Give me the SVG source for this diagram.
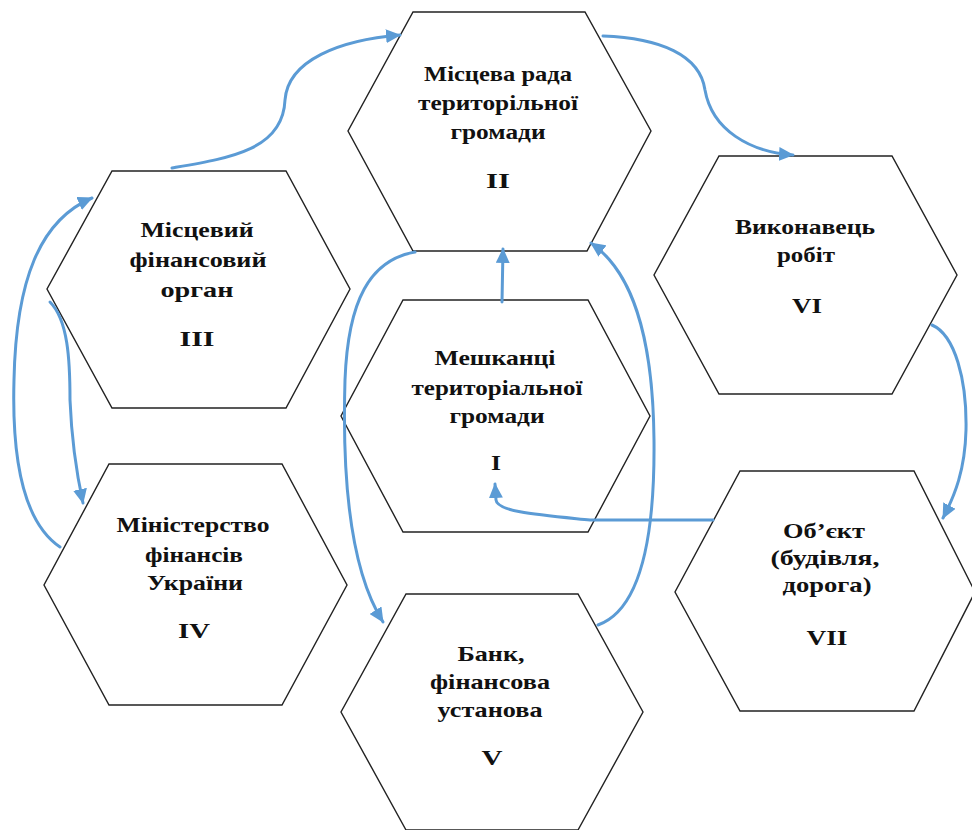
<svg xmlns="http://www.w3.org/2000/svg" width="972" height="830" viewBox="0 0 972 830">
<style>
.hex{fill:#fff;stroke:#222;stroke-width:1.4}
.t{font-family:"Liberation Serif","DejaVu Serif","Times New Roman",serif;font-weight:700;font-size:21px;fill:#111;text-anchor:middle}
.n{font-family:"Liberation Serif","DejaVu Serif","Times New Roman",serif;font-weight:700;font-size:22px;fill:#111;text-anchor:middle}
.c{fill:none;stroke:#5B9BD5;stroke-width:3;stroke-linecap:round}
</style>
<defs>
<marker id="ah" markerUnits="userSpaceOnUse" markerWidth="16" markerHeight="14" refX="14" refY="7" orient="auto">
<path d="M0,0 L15,7 L0,14 Z" fill="#5B9BD5"/>
</marker>
</defs>
<rect width="972" height="830" fill="#fff"/>
<g id="node-II">
<polygon class="hex" points="413,12 585,12 651,131 587,251 413,251 348,131"/>
<text class="t" x="498" y="81" textLength="148" lengthAdjust="spacingAndGlyphs">Місцева рада</text>
<text class="t" x="498" y="110" textLength="160" lengthAdjust="spacingAndGlyphs">територільної</text>
<text class="t" x="498" y="139" textLength="95" lengthAdjust="spacingAndGlyphs">громади</text>
<text class="n" x="498" y="188" textLength="24" lengthAdjust="spacingAndGlyphs">II</text>
</g>
<g id="node-III">
<polygon class="hex" points="112,171 286,171 350,289 286,408 112,408 47,289"/>
<text class="t" x="197" y="237" textLength="113" lengthAdjust="spacingAndGlyphs">Місцевий</text>
<text class="t" x="198" y="267" textLength="137" lengthAdjust="spacingAndGlyphs">фінансовий</text>
<text class="t" x="197" y="297" textLength="73" lengthAdjust="spacingAndGlyphs">орган</text>
<text class="n" x="197" y="346" textLength="35" lengthAdjust="spacingAndGlyphs">III</text>
</g>
<g id="node-I">
<polygon class="hex" points="403,300 588,300 650,416 588,532 403,532 341,416"/>
<text class="t" x="495" y="365" textLength="121" lengthAdjust="spacingAndGlyphs">Мешканці</text>
<text class="t" x="497" y="395" textLength="171" lengthAdjust="spacingAndGlyphs">територіальної</text>
<text class="t" x="497" y="423" textLength="95" lengthAdjust="spacingAndGlyphs">громади</text>
<text class="n" x="496" y="470" textLength="10" lengthAdjust="spacingAndGlyphs">I</text>
</g>
<g id="node-VI">
<polygon class="hex" points="719,156 892,156 957,275 892,394 719,394 654,275"/>
<text class="t" x="805" y="234" textLength="140" lengthAdjust="spacingAndGlyphs">Виконавець</text>
<text class="t" x="806" y="262" textLength="58" lengthAdjust="spacingAndGlyphs">робіт</text>
<text class="n" x="807" y="313" textLength="30" lengthAdjust="spacingAndGlyphs">VI</text>
</g>
<g id="node-IV">
<polygon class="hex" points="109,464 282,464 347,585 282,705 109,705 44,585"/>
<text class="t" x="193" y="532" textLength="153" lengthAdjust="spacingAndGlyphs">Міністерство</text>
<text class="t" x="194" y="562" textLength="98" lengthAdjust="spacingAndGlyphs">фінансів</text>
<text class="t" x="195" y="590" textLength="96" lengthAdjust="spacingAndGlyphs">України</text>
<text class="n" x="194" y="638" textLength="32" lengthAdjust="spacingAndGlyphs">IV</text>
</g>
<g id="node-V">
<polygon class="hex" points="406,594 578,594 643,712 578,830 406,830 341,712"/>
<text class="t" x="491" y="661" textLength="67" lengthAdjust="spacingAndGlyphs">Банк,</text>
<text class="t" x="490" y="689" textLength="120" lengthAdjust="spacingAndGlyphs">фінансова</text>
<text class="t" x="490" y="717" textLength="105" lengthAdjust="spacingAndGlyphs">установа</text>
<text class="n" x="492" y="765" textLength="21" lengthAdjust="spacingAndGlyphs">V</text>
</g>
<g id="node-VII">
<polygon class="hex" points="740,471 914,471 975,592 914,711 740,711 675,592"/>
<text class="t" x="824" y="538" textLength="82" lengthAdjust="spacingAndGlyphs">Об’єкт</text>
<text class="t" x="825" y="565" textLength="109" lengthAdjust="spacingAndGlyphs">(будівля,</text>
<text class="t" x="827" y="592" textLength="89" lengthAdjust="spacingAndGlyphs">дорога)</text>
<text class="n" x="827" y="645" textLength="41" lengthAdjust="spacingAndGlyphs">VII</text>
</g>
<g id="connectors">
<path class="c" marker-end="url(#ah)" d="M172,168 C230,158 283,150 285,100 C288,60 340,40 400,35"/>
<path class="c" marker-end="url(#ah)" d="M603,36 C660,38 700,55 705,90 C712,130 750,152 793,155"/>
<path class="c" marker-end="url(#ah)" d="M60,547 C20,520 12,450 14,380 C16,280 40,220 92,198"/>
<path class="c" marker-end="url(#ah)" d="M50,302 C68,320 70,360 70,400 C72,450 78,480 83,503"/>
<path class="c" marker-end="url(#ah)" d="M502,302 L503,249"/>
<path class="c" marker-end="url(#ah)" d="M415,252 C370,260 348,300 345,380 C342,480 350,570 383,622"/>
<path class="c" marker-end="url(#ah)" d="M598,625 C640,610 655,540 654,440 C653,330 630,270 591,243"/>
<path class="c" marker-end="url(#ah)" d="M932,325 C955,335 967,380 966,430 C965,470 955,495 943,518"/>
<path class="c" marker-end="url(#ah)" d="M713,520 L590,520 C540,515 497,512 496,500 L495,484"/>
</g>
</svg>
